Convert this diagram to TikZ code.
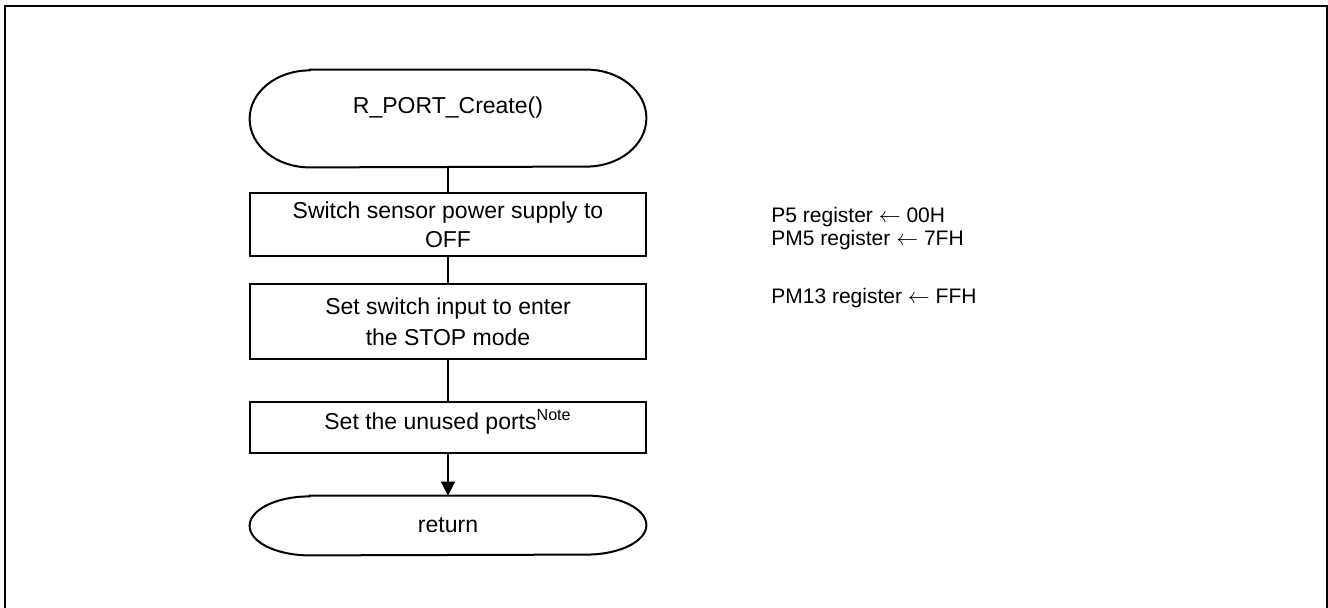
\documentclass[tikz,border=0pt]{standalone}
\usepackage{fontspec}
\setmainfont{Liberation Sans}
\usetikzlibrary{arrows.meta}

\begin{document}
\begin{tikzpicture}[
    x=0.5pt, y=-0.5pt,
  	every node/.style = {align=center, inner sep=0pt,
    font=\fontsize{11.5}{14.5}\selectfont},
    process/.style = {shape=rectangle, draw, line width=1pt, minimum width=198pt},
	terminal/.style = {shape=rectangle, minimum width=198pt},
    note/.style = {anchor=west, align=left, font=\fontsize{10.5}{11.5}\selectfont},
    flow/.style = {line width=1pt},
    ]
  \useasboundingbox (0,0) rectangle (1328,608);
  % outer frame
  \draw[line width=1.25pt] (5,640) -- (5,6) -- (1327,6) -- (1327,640);

  \node[terminal, minimum height=48.5pt, text height=9pt, text depth=14.3pt]
    (start) at (448,118.5) {R\_PORT\_Create()};
  \node[process, minimum height=31.5pt] (power) at (448,224.5)
    {Switch sensor power supply to\\OFF};
  \node[process, minimum height=37.5pt, font=\fontsize{11.5}{15.5}\selectfont]
    (keyin) at (448,321.5) {Set switch input to enter\\the STOP mode};
  \node[process, minimum height=25.5pt, text height=10pt, text depth=8.3pt]
    (unused) at (448,427.5) {Set the unused ports\textsuperscript{Note}};
  \node[terminal, minimum height=29.5pt] (ret) at (448,525.5) {return};

  % terminal outlines
  \draw[flow] ([xshift=30pt]start.north west) -- ([xshift=-30pt]start.north east)
    arc[start angle=90, end angle=-90, x radius=30pt, y radius=24.25pt]
    -- ([xshift=30pt]start.south west)
    arc[start angle=270, end angle=90, x radius=30pt, y radius=24.25pt] -- cycle;
  \draw[flow] ([xshift=30pt]ret.north west) -- ([xshift=-30pt]ret.north east)
    arc[start angle=90, end angle=-90, x radius=30pt, y radius=14.75pt]
    -- ([xshift=30pt]ret.south west)
    arc[start angle=270, end angle=90, x radius=30pt, y radius=14.75pt] -- cycle;

  \draw[flow] (start) -- (power);
  \draw[flow] (power) -- (keyin);
  \draw[flow] (keyin) -- (unused);
  \draw[flow, -{Triangle[length=7pt, width=7pt]}] (unused) -- (ret);

  % register settings
  \node[note] (regpower) at (771,228.5)
    {P5 register $\leftarrow$ 00H\\PM5 register $\leftarrow$ 7FH};
  \node[note] (regkey) at (771,298) {PM13 register $\leftarrow$ FFH};
\end{tikzpicture}
\end{document}
